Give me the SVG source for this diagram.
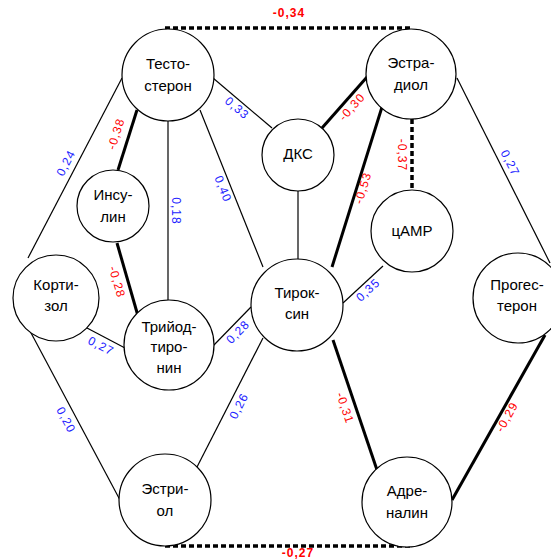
<svg xmlns="http://www.w3.org/2000/svg" width="551" height="560" viewBox="0 0 551 560">
<style>
.node circle{fill:#fff;stroke:#000;stroke-width:1.2}
.node text{font-family:"Liberation Sans",Arial,sans-serif;font-size:15px;fill:#000;text-anchor:middle}
.thin{stroke:#000;stroke-width:1.2;fill:none}
.thick{stroke:#000;stroke-width:3;fill:none}
.dash{stroke:#000;stroke-width:3.5;fill:none;stroke-dasharray:5 3}
.pos{font-family:"Liberation Sans",Arial,sans-serif;font-size:12px;fill:#2222ff;text-anchor:middle;letter-spacing:1px}
.neg{font-family:"Liberation Sans",Arial,sans-serif;font-size:12px;fill:#ff0000;text-anchor:middle;letter-spacing:1px}
.negb{font-family:"Liberation Sans",Arial,sans-serif;font-size:12px;font-weight:bold;fill:#ff0000;text-anchor:middle;letter-spacing:1px}
</style>
<rect width="551" height="560" fill="#fff"/>
<g id="connectors">
<line class="thin" x1="122" y1="78" x2="28" y2="258"/>
<line class="thin" x1="213" y1="78" x2="272" y2="128"/>
<line class="thin" x1="168" y1="120" x2="168" y2="300"/>
<line class="thin" x1="200" y1="110" x2="263" y2="267"/>
<line class="thin" x1="298" y1="191" x2="298" y2="259"/>
<line class="thin" x1="457" y1="78" x2="550" y2="263"/>
<line class="thin" x1="383" y1="266" x2="343" y2="303"/>
<line class="thin" x1="87" y1="328" x2="125" y2="348"/>
<line class="thin" x1="213" y1="346" x2="251" y2="307"/>
<line class="thin" x1="30" y1="331" x2="120" y2="500"/>
<line class="thin" x1="263" y1="338" x2="197" y2="467"/>
<line class="thick" x1="137" y1="110" x2="118" y2="170"/>
<line class="thick" x1="117" y1="243" x2="138" y2="316"/>
<line class="thick" x1="367" y1="77" x2="322" y2="128"/>
<line class="thick" x1="382" y1="107" x2="332" y2="267"/>
<line class="thick" x1="333" y1="340" x2="377" y2="470"/>
<line class="thick" x1="545" y1="335" x2="452" y2="500"/>
<line class="dash" x1="165" y1="28" x2="413" y2="28"/>
<line class="dash" x1="412" y1="119" x2="412" y2="190"/>
<line class="dash" x1="165" y1="546" x2="410" y2="546"/>
<text class="negb" x="289" y="17">-0,34</text>
<text class="negb" x="298" y="557">-0,27</text>
<text class="pos" transform="translate(66,163) rotate(-62.4)" dy="4">0,24</text>
<text class="pos" transform="translate(237,108) rotate(40.3)" dy="4">0,33</text>
<text class="pos" transform="translate(176,211) rotate(90)" dy="4">0,18</text>
<text class="pos" transform="translate(223,189) rotate(68.1)" dy="4">0,40</text>
<text class="pos" transform="translate(510,163) rotate(63.3)" dy="4">0,27</text>
<text class="pos" transform="translate(368,290) rotate(-42.8)" dy="4">0,35</text>
<text class="pos" transform="translate(101,346) rotate(27.8)" dy="4">0,27</text>
<text class="pos" transform="translate(238,332) rotate(-45.7)" dy="4">0,28</text>
<text class="pos" transform="translate(66,420) rotate(62)" dy="4">0,20</text>
<text class="pos" transform="translate(239,406) rotate(-62.9)" dy="4">0,26</text>
<text class="neg" transform="translate(116,134) rotate(-72.4)" dy="4">-0,38</text>
<text class="neg" transform="translate(117,282) rotate(73.9)" dy="4">-0,28</text>
<text class="neg" transform="translate(352,107) rotate(-48.6)" dy="4">-0,30</text>
<text class="neg" transform="translate(402,155) rotate(90)" dy="4">-0,37</text>
<text class="neg" transform="translate(363,188) rotate(-72.6)" dy="4">-0,53</text>
<text class="neg" transform="translate(345,408) rotate(71.3)" dy="4">-0,31</text>
<text class="neg" transform="translate(507,417) rotate(-60.6)" dy="4">-0,29</text>
</g>
<g id="testosterone" class="node"><circle cx="168" cy="75" r="46"/><text x="168" y="69">Тесто-</text><text x="168" y="91">стерон</text></g>
<g id="estradiol" class="node"><circle cx="411" cy="74" r="45"/><text x="411" y="68">Эстра-</text><text x="411" y="90">диол</text></g>
<g id="dks" class="node"><circle cx="298" cy="155" r="36"/><text x="298" y="159">ДКС</text></g>
<g id="insulin" class="node"><circle cx="113" cy="206" r="36"/><text x="113" y="200">Инсу-</text><text x="113" y="222">лин</text></g>
<g id="camp" class="node"><circle cx="412" cy="231" r="41"/><text x="412" y="236">цАМР</text></g>
<g id="cortisol" class="node"><circle cx="56" cy="298" r="43"/><text x="56" y="290">Корти-</text><text x="56" y="311">зол</text></g>
<g id="triiodothyronine" class="node"><circle cx="169" cy="345" r="45"/><text x="169" y="332">Трийод-</text><text x="169" y="352">тиро-</text><text x="169" y="373">нин</text></g>
<g id="thyroxine" class="node"><circle cx="297" cy="305" r="46"/><text x="297" y="298">Тирок-</text><text x="297" y="319">син</text></g>
<g id="progesterone" class="node"><circle cx="518" cy="298" r="45"/><text x="517" y="290">Прогес-</text><text x="517" y="311">терон</text></g>
<g id="estriol" class="node"><circle cx="165" cy="500" r="46"/><text x="165" y="494">Эстри-</text><text x="165" y="516">ол</text></g>
<g id="adrenaline" class="node"><circle cx="407" cy="502" r="45"/><text x="407" y="496">Адре-</text><text x="407" y="518">налин</text></g>
</svg>
